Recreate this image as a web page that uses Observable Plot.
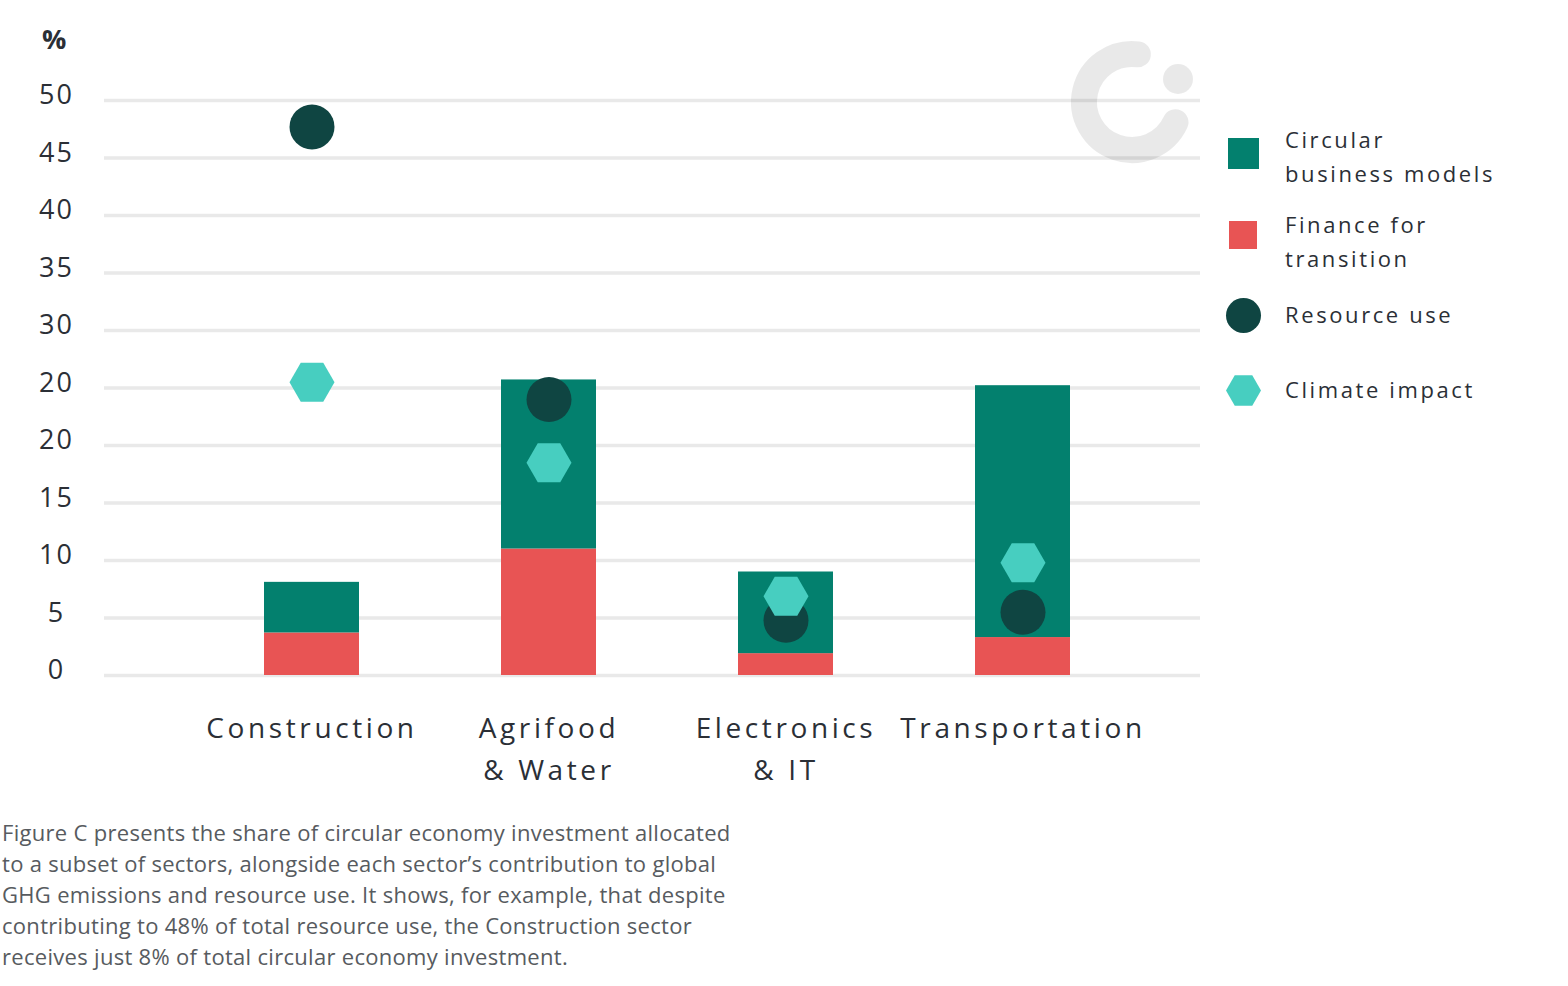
<!DOCTYPE html>
<html>
<head>
<meta charset="utf-8">
<script src="https://cdn.jsdelivr.net/npm/d3@7"></script>
<script src="https://cdn.jsdelivr.net/npm/@observablehq/plot@0.6"></script>
<style>
  html, body { margin: 0; padding: 0; background: #fff; }
  #wrap { position: relative; width: 1568px; height: 986px; font-family: "Open Sans", "Noto Sans", sans-serif; color: #2b2f36; }
  #chart { position: absolute; left: 0; top: 0; }
  #chart svg g[aria-label="y-axis tick label"] text { letter-spacing: 2px; }
  #chart svg g[aria-label="x-axis tick label"] text { letter-spacing: 3.6px; }
  .pct { position: absolute; left: 42px; top: 25px; font-size: 27px; line-height: 27px; font-weight: 700; color: #2b2f36; }
  .leg-sw { position: absolute; }
  .leg-tx { position: absolute; left: 1285px; font-size: 22px; line-height: 34px; letter-spacing: 2.6px; color: #2b2f36; white-space: pre; }
  .caption { position: absolute; left: 2px; top: 817px; font-size: 22px; line-height: 31px; color: #575b60; white-space: pre; letter-spacing: 0.3px; }
  #logo { position: absolute; left: 1060px; top: 30px; }
</style>
</head>
<body>
<div id="wrap">
  <div id="chart"></div>
</div>
<script>
// ---- data ----
const sectors = ["Construction", "Agrifood & Water", "Electronics & IT", "Transportation"];
const sectorLabels = ["Construction", "Agrifood\n& Water", "Electronics\n& IT", "Transportation"];
const financeForTransition = [3.7, 11.0, 1.9, 3.3];
const circularBusinessModels = [4.4, 14.7, 7.1, 21.9];
const resourceUse = [47.7, 24.0, 4.8, 5.5];
const climateImpact = [25.5, 18.5, 6.9, 9.8];
const yTicks = [0, 5, 10, 15, 20, 25, 30, 35, 40, 45, 50];
const yTickLabels = ["0", "5", "10", "15", "20", "20", "30", "35", "40", "45", "50"];
const seriesNames = ["Circular\nbusiness models", "Finance for\ntransition", "Resource use", "Climate impact"];
const captionText = "Figure C presents the share of circular economy investment allocated\nto a subset of sectors, alongside each sector\u2019s contribution to global\nGHG emissions and resource use. It shows, for example, that despite\ncontributing to 48% of total resource use, the Construction sector\nreceives just 8% of total circular economy investment.";

// ---- styles ----
const colors = {
  circular: "#03806e",
  finance: "#e85454",
  resource: "#0f4542",
  climate: "#47cec0"
};

// ---- build tables ----
const stacked = [
  ...sectors.map((s, i) => ({sector: s, series: "finance", value: financeForTransition[i]})),
  ...sectors.map((s, i) => ({sector: s, series: "circular", value: circularBusinessModels[i]}))
];
const points = sectors.map((s, i) => ({sector: s, resource: resourceUse[i], climate: climateImpact[i]}));

const flatHexagon = {
  draw(context, size) {
    const R = Math.sqrt(size / Math.PI);
    for (let k = 0; k < 6; ++k) {
      const a = (k * Math.PI) / 3;
      const px = R * Math.cos(a), py = R * Math.sin(a);
      if (k === 0) context.moveTo(px, py); else context.lineTo(px, py);
    }
    context.closePath();
  }
};

const W = 1568, H = 800;
const plot = Plot.plot({
  width: W,
  height: H,
  marginLeft: 104,
  marginRight: W - 1200,
  marginTop: 100,
  marginBottom: 125,
  style: {fontFamily: "'Open Sans', 'Noto Sans', sans-serif", background: "transparent", color: "#2b2f36"},
  x: {domain: sectors, range: [120, 1214], padding: 0.6, axis: null},
  y: {domain: [0, 50], axis: null},
  color: {domain: ["finance", "circular"], range: [colors.finance, colors.circular]},
  marks: [
    Plot.ruleY(yTicks, {stroke: "#e9e9e9", strokeWidth: 3.5}),
    Plot.axisY({
      ticks: yTicks,
      tickSize: 0,
      tickPadding: 48,
      textAnchor: "middle",
      dy: -5,
      fontSize: 27,
      fill: "#2b2f36",
      tickFormat: (d) => yTickLabels[yTicks.indexOf(d)],
      label: null
    }),
    Plot.axisX({
      tickSize: 0,
      tickPadding: 33,
      fontSize: 28,
      lineHeight: 1.5,
      fill: "#2b2f36",
      tickFormat: (d) => sectorLabels[sectors.indexOf(d)],
      label: null
    }),
    Plot.barY(stacked, {x: "sector", y: "value", fill: "series", order: null}),
    Plot.dot(points, {x: "sector", y: "resource", r: 22.5, fill: colors.resource}),
    Plot.dot(points, {x: "sector", y: "climate", r: 22.5, fill: colors.climate, symbol: flatHexagon})
  ]
});
document.getElementById("chart").appendChild(plot);

const wrap = document.getElementById("wrap");

// "%" unit label
const pct = document.createElement("div");
pct.className = "pct";
pct.textContent = "%";
wrap.appendChild(pct);

// watermark logo
const logo = d3.create("svg").attr("id", "logo").attr("width", 150).attr("height", 150);
const cx = 72, cy = 72, rMid = 48;
const a0 = 25 * Math.PI / 180, a1 = 277 * Math.PI / 180;
const arc = d3.path();
arc.arc(cx, cy, rMid, a0, a1, false);
logo.append("path").attr("d", arc.toString()).attr("fill", "none")
  .attr("stroke", "rgba(0,0,0,0.085)").attr("stroke-width", 26).attr("stroke-linecap", "round");
logo.append("circle").attr("cx", cx + 46).attr("cy", cy - 23).attr("r", 15).attr("fill", "rgba(0,0,0,0.085)");
wrap.appendChild(logo.node());

// legend
const legendSwatches = [
  {type: "square", color: colors.circular, left: 1228, top: 138, size: 31},
  {type: "square", color: colors.finance, left: 1229, top: 221, size: 28},
  {type: "circle", color: colors.resource, left: 1225.5, top: 297.5, size: 35},
  {type: "hex", color: colors.climate, left: 1225.5, top: 373, size: 35}
];
const legendTextTops = [122, 207, 297, 372];
legendSwatches.forEach((s, i) => {
  let el;
  if (s.type === "hex") {
    const sv = d3.create("svg").attr("width", s.size).attr("height", s.size).attr("class", "leg-sw")
      .style("left", s.left + "px").style("top", s.top + "px");
    const R = s.size / 2;
    const pts = d3.range(6).map(k => [R + R * Math.cos(k * Math.PI / 3), R + R * Math.sin(k * Math.PI / 3)]);
    sv.append("polygon").attr("points", pts.map(p => p.join(",")).join(" ")).attr("fill", s.color);
    el = sv.node();
  } else {
    el = document.createElement("div");
    el.className = "leg-sw";
    el.style.left = s.left + "px";
    el.style.top = s.top + "px";
    el.style.width = s.size + "px";
    el.style.height = s.size + "px";
    el.style.background = s.color;
    if (s.type === "circle") el.style.borderRadius = "50%";
  }
  wrap.appendChild(el);
  const tx = document.createElement("div");
  tx.className = "leg-tx";
  tx.style.top = legendTextTops[i] + "px";
  tx.textContent = seriesNames[i];
  wrap.appendChild(tx);
});

// caption
const cap = document.createElement("div");
cap.className = "caption";
cap.textContent = captionText;
wrap.appendChild(cap);
</script>
</body>
</html>
